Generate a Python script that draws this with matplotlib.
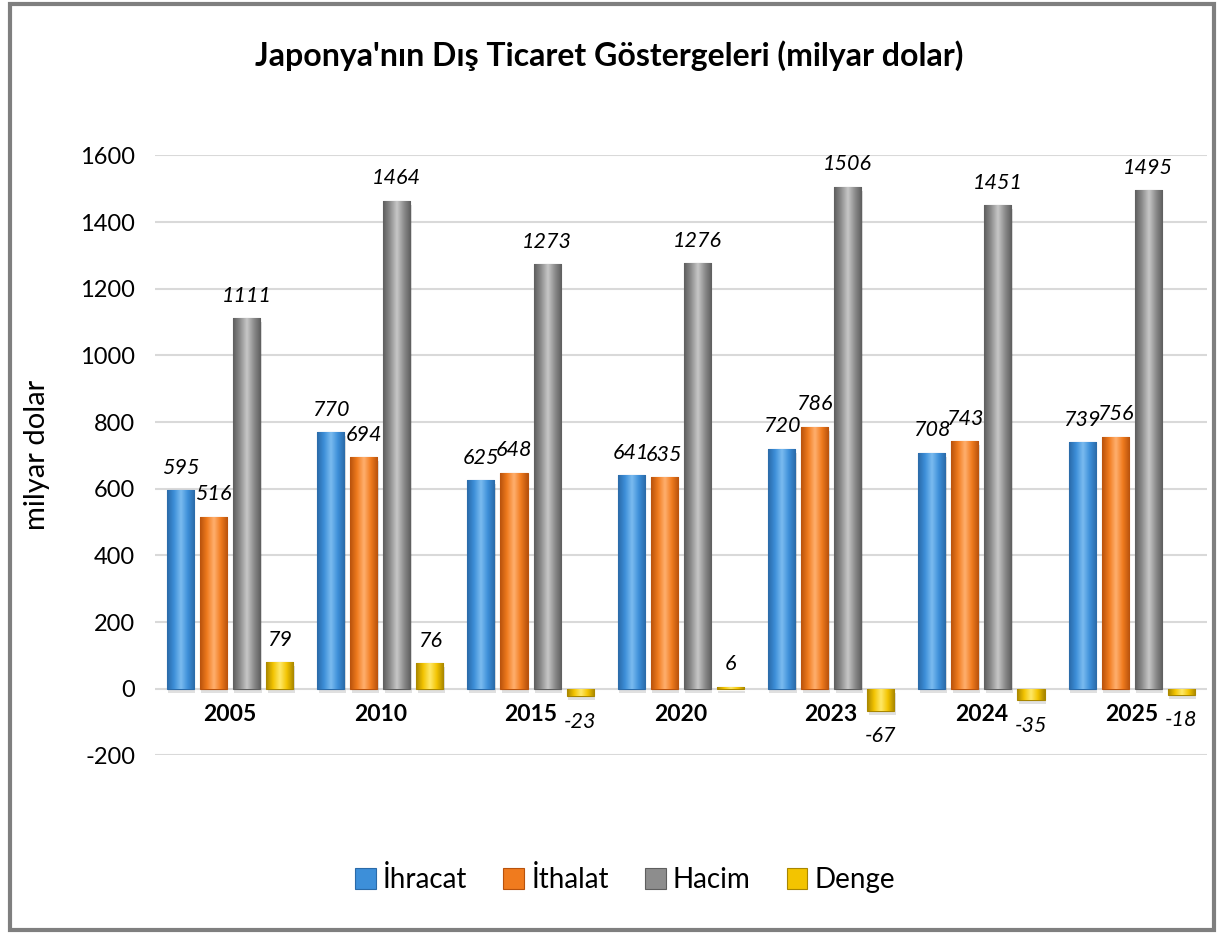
import numpy as np
import matplotlib.pyplot as plt
from matplotlib.patches import Rectangle
from matplotlib.colors import LinearSegmentedColormap

plt.rcParams['font.family'] = ['Lato', 'DejaVu Sans']
plt.rcParams['axes.unicode_minus'] = False

# data
years = ['2005', '2010', '2015', '2020', '2023', '2024', '2025']
ihracat = [595, 770, 625, 641, 720, 708, 739]
ithalat = [516, 694, 648, 635, 786, 743, 756]
hacim = [1111, 1464, 1273, 1276, 1506, 1451, 1495]
denge = [79, 76, -23, 6, -67, -35, -18]

series = [('İhracat', ihracat), ('İthalat', ithalat), ('Hacim', hacim), ('Denge', denge)]
# (dark edge, mid, light) colours for a bevelled look
colors = [('#2a6aa8', '#3d8fd9', '#7cbcf0'),
          ('#b8520c', '#f07b1e', '#ffb070'),
          ('#5e5e5e', '#8d8d8d', '#c8c8c8'),
          ('#a88600', '#f3c400', '#ffe96a')]

fig = plt.figure(figsize=(12.19, 9.36), dpi=100)
ax = fig.add_axes([0.127, 0.193, 0.863, 0.641])

x = np.arange(len(years))
width = 0.18
offsets = [-0.33, -0.11, 0.11, 0.33]

for (name, vals), off, (dark, mid, light) in zip(series, offsets, colors):
    cmap = LinearSegmentedColormap.from_list(name, [dark, mid, light, mid, dark])
    grad = np.linspace(0, 1, 64).reshape(1, -1)
    bars = ax.bar(x + off, vals, width, color=mid, edgecolor=dark, linewidth=0.8,
                  label=name, zorder=3)
    for b, v in zip(bars, vals):
        x0 = b.get_x()
        y0, y1 = sorted([0, v])
        # soft shadow
        ax.add_patch(Rectangle((x0 + 0.01, y0 - 12), b.get_width(), y1 - y0,
                               facecolor='#000000', alpha=0.12, zorder=2, lw=0))
        im = ax.imshow(grad, extent=(x0, x0 + b.get_width(), y0, y1), aspect='auto',
                       cmap=cmap, zorder=3.5, interpolation='bicubic')
        im.set_clip_path(b)
        if v >= 0:
            ax.annotate(str(v), (x0 + b.get_width() / 2, v), xytext=(0, 9),
                        textcoords='offset points', ha='center', va='bottom',
                        fontsize=15.5, style='italic', zorder=5)
        else:
            ax.annotate(str(v), (x0 + b.get_width() / 2, v), xytext=(0, -11),
                        textcoords='offset points', ha='center', va='top',
                        fontsize=15.5, style='italic', zorder=5)

ax.set_xlim(-0.5, len(years) - 0.5)
ax.set_ylim(-200, 1600)
ax.set_yticks(np.arange(-200, 1601, 200))
ax.tick_params(axis='y', length=0, labelsize=17, pad=14)
ax.tick_params(axis='x', length=0, bottom=False, labelbottom=False)
ax.grid(axis='y', color='#d9d9d9', linewidth=1.5, zorder=0)
ax.set_axisbelow(True)
for s in ax.spines.values():
    s.set_visible(False)

for xi, yr in zip(x, years):
    ax.text(xi, -46, yr, ha='center', va='top', fontsize=16.5, fontweight='bold')

ax.set_ylabel('milyar dolar', fontsize=21, labelpad=22)

fig.text(0.5, 0.941, "Japonya'nın Dış Ticaret Göstergeleri (milyar dolar)",
         ha='center', va='center', fontsize=23, fontweight='bold')

ax.legend(loc='center', bbox_to_anchor=(0.447, -0.207), ncol=4, frameon=False,
          fontsize=20, handlelength=0.75, handleheight=0.75, handletextpad=0.25,
          columnspacing=1.3)

fig.patches.append(Rectangle((0.008, 0.006), 0.988, 0.99, transform=fig.transFigure,
                             fill=False, edgecolor='#7f7f7f', linewidth=3))

fig.savefig('out.png', dpi=100)
